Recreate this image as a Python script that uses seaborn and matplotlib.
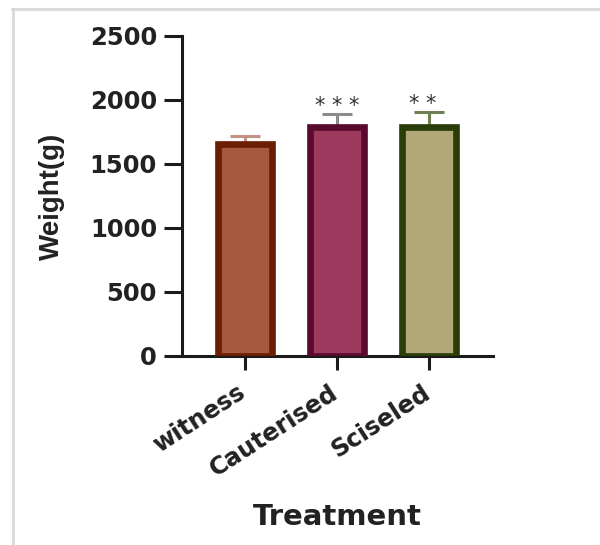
import pandas as pd
import matplotlib
matplotlib.use("Agg")
import matplotlib.pyplot as plt
import matplotlib.transforms as mtransforms
import seaborn as sns
from matplotlib.lines import Line2D

# values
treatments = ["witness", "Cauterised", "Sciseled"]
weight_mean = [1655, 1785, 1785]
weight_sd = [66, 105, 123]
signif = ["", "* * *", "* *"]

fill_colors = ["#A5583D", "#9E3A5E", "#B2A776"]
edge_colors = ["#6A1F02", "#5A0A2E", "#2A3C08"]
err_colors = ["#C49283", "#8C8C8C", "#6F8152"]

df = pd.DataFrame({"Treatment": treatments, "Weight": weight_mean, "SD": weight_sd})

sns.set_theme(style="ticks")
plt.rcParams["font.family"] = ["DejaVu Sans"]

fig = plt.figure(figsize=(6, 5.45), dpi=100)
ax = fig.add_axes([0.3033, 0.3468, 0.5184, 0.5872])

sns.barplot(data=df, x="Treatment", y="Weight", hue="Treatment",
            palette=fill_colors, width=0.59, errorbar=None, legend=False,
            saturation=1, ax=ax, zorder=3)

for patch, ec in zip(ax.patches, edge_colors):
    patch.set_edgecolor(ec)
    patch.set_linewidth(4.8)

# one-sided error bars (mean + SD)
for i, row in df.iterrows():
    ax.errorbar(i, row["Weight"], yerr=[[0], [row["SD"]]], fmt="none",
                ecolor=err_colors[i], elinewidth=2.2, capsize=11,
                capthick=2.2, zorder=2)
    if signif[i]:
        ax.text(i - (0.07 if i == 2 else 0), row["Weight"] + row["SD"] - 15,
                signif[i], ha="center", va="bottom", fontsize=15,
                color="#333333")

ax.set_ylim(0, 2500)
ax.set_xlim(-0.685, 2.696)
ax.set_yticks([0, 500, 1000, 1500, 2000, 2500])
sns.despine(ax=ax)
for side in ["left", "bottom"]:
    ax.spines[side].set_linewidth(2.2)
    ax.spines[side].set_color("#1a1a1a")
ax.tick_params(axis="y", length=13, width=2.2, color="#1a1a1a", pad=5,
               labelsize=17.5)
ax.tick_params(axis="x", length=10, width=2.2, color="#1a1a1a", pad=6,
               labelsize=17.5)
for lab in ax.get_yticklabels():
    lab.set_fontweight("bold")
    lab.set_color("#222222")
shift = mtransforms.ScaledTranslation(-8 / 100, -2 / 100, fig.dpi_scale_trans)
for lab in ax.get_xticklabels():
    lab.set_fontweight("bold")
    lab.set_color("#222222")
    lab.set_rotation(33)
    lab.set_ha("right")
    lab.set_rotation_mode("anchor")
    lab.set_transform(lab.get_transform() + shift)

ax.set_xlabel("")
ax.set_ylabel("Weight(g)", fontsize=20, fontweight="bold",
              family=["Liberation Sans", "DejaVu Sans"], color="#222222",
              labelpad=18)
fig.text(337 / 600, 1 - 517 / 545, "Treatment", ha="center", va="center",
         fontsize=21, fontweight="bold", color="#222222")

# light grey frame of the screenshot
fig.add_artist(Line2D([12 / 600, 1], [1 - 8.5 / 545] * 2, color="#dadada",
                      lw=2.2, transform=fig.transFigure))
fig.add_artist(Line2D([12.5 / 600] * 2, [0, 1 - 8.5 / 545], color="#dadada",
                      lw=2, transform=fig.transFigure))

fig.savefig("out.png", dpi=100)
